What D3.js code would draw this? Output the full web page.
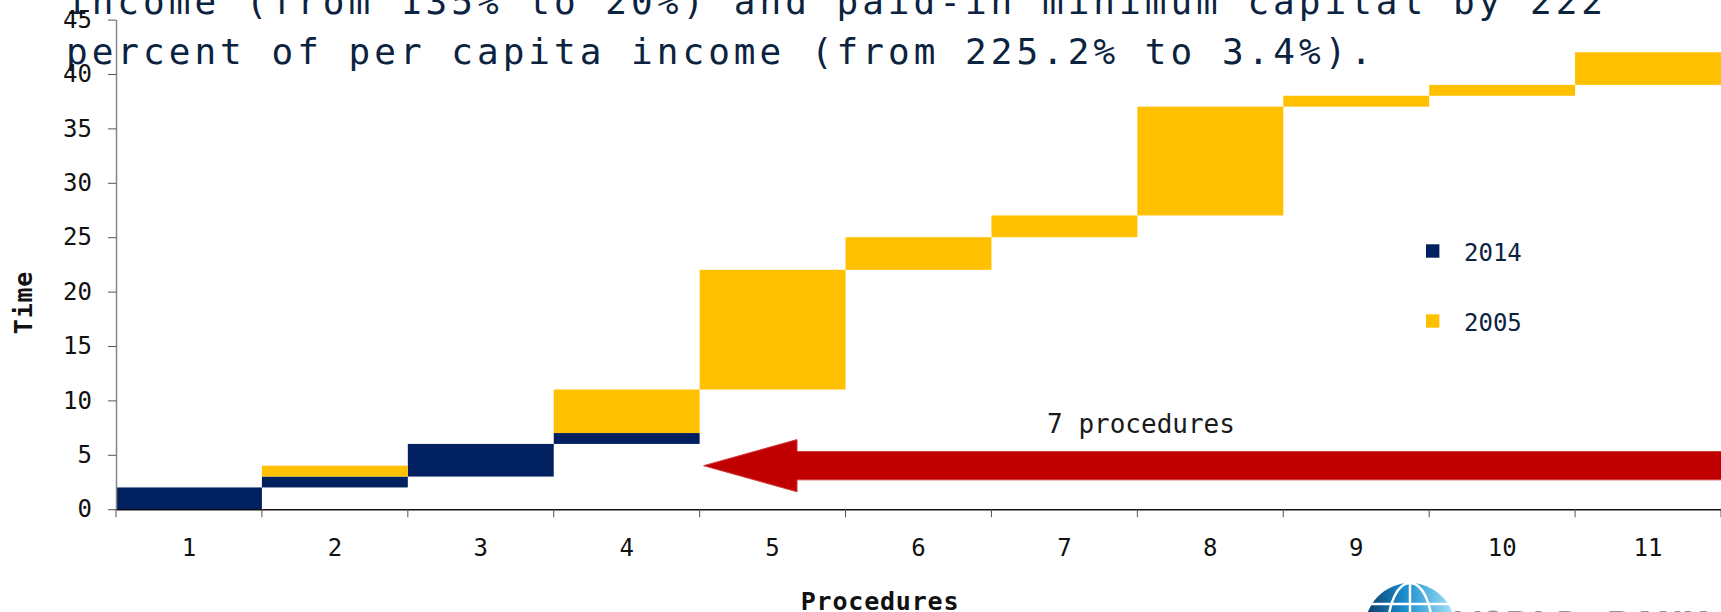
<!DOCTYPE html>
<html>
<head>
<meta charset="utf-8">
<script src="https://cdn.jsdelivr.net/npm/d3@7"></script>
<style>
  html, body { margin: 0; padding: 0; background: #ffffff; overflow: hidden; }
  svg { display: block; }
  text { font-family: "DejaVu Sans Mono", "Liberation Mono", monospace; }
</style>
</head>
<body>
<svg id="chart" width="1721" height="612"></svg>
<script>
// Procedures to start a business: cumulative days, 2014 vs 2005
const procedures = ["1", "2", "3", "4", "5", "6", "7", "8", "9", "10", "11"];
// day on which each procedure starts
const startDay  = [0, 2, 3, 6, 11, 22, 25, 27, 37, 38, 39];
// days taken by each procedure in 2014
const days2014  = [2, 1, 3, 1, 0, 0, 0, 0, 0, 0, 0];
// extra days the same procedure took in 2005
const days2005  = [0, 1, 0, 4, 11, 3, 2, 10, 1, 1, 3];
const yTicks    = [0, 5, 10, 15, 20, 25, 30, 35, 40, 45];
const seriesNames = ["2014", "2005"];
const titleLines = [
  "income (from 135% to 20%) and paid-in minimum capital by 222",
  "percent of per capita income (from 225.2% to 3.4%)."
];
const arrowLabel = "7 procedures";
// the arrow spans the procedures dropped since 2005 (5 through 11), drawn at day 4
const arrowFromProc = 4, arrowDay = 4;

const NAVY = "#002060", GOLD = "#FFC000", RED = "#C00000";
const svg = d3.select("#chart");

const x = d3.scaleBand().domain(procedures).range([116, 1721]).padding(0);
const y = d3.scaleLinear().domain([0, 45]).range([509.2, 19.6]);
const bw = x.bandwidth();

// title (cut off at the top of the frame)
svg.append("g").selectAll("text").data(titleLines).join("text")
  .attr("x", 66)
  .attr("y", (d, i) => 13.5 + i * 50)
  .attr("textLength", (d, i) => i === 0 ? 1537 : 1306)
  .attr("lengthAdjust", "spacing")
  .attr("font-size", 36)
  .attr("fill", "#0c2340")
  .text(d => d);

// waterfall steps
const rows = procedures.map((p, i) => ({ p, s: startDay[i], a: days2014[i], b: days2005[i] }));
const bars = svg.append("g");
bars.selectAll("rect.y2014").data(rows.filter(r => r.a > 0)).join("rect")
  .attr("class", "y2014")
  .attr("x", d => x(d.p)).attr("width", bw)
  .attr("y", d => y(d.s + d.a)).attr("height", d => y(d.s) - y(d.s + d.a))
  .attr("fill", NAVY);
bars.selectAll("rect.y2005").data(rows.filter(r => r.b > 0)).join("rect")
  .attr("class", "y2005")
  .attr("x", d => x(d.p)).attr("width", bw)
  .attr("y", d => y(d.s + d.a + d.b)).attr("height", d => y(d.s + d.a) - y(d.s + d.a + d.b))
  .attr("fill", GOLD);

// y axis
const yAxis = svg.append("g")
  .attr("transform", `translate(${x.range()[0]},0)`)
  .call(d3.axisLeft(y).tickValues(yTicks).tickSize(8).tickSizeOuter(0).tickPadding(16));
yAxis.select(".domain").attr("stroke", "#868686").attr("stroke-width", 1.5);
yAxis.selectAll(".tick line").attr("stroke", "#555");
yAxis.selectAll(".tick text")
  .attr("font-family", "DejaVu Sans Mono").attr("font-size", 24).attr("fill", "#111");

// x axis: labels centred in each band, ticks on band boundaries
const xAxis = svg.append("g")
  .attr("transform", `translate(0,${y(0)})`)
  .call(d3.axisBottom(x).tickSize(0).tickPadding(30));
xAxis.select(".domain").attr("stroke", "#111").attr("stroke-width", 1.5);
xAxis.selectAll(".tick text")
  .attr("font-family", "DejaVu Sans Mono").attr("font-size", 24).attr("fill", "#111");
const bounds = d3.range(procedures.length + 1).map(i => x.range()[0] + i * bw);
xAxis.selectAll("line.bound").data(bounds).join("line")
  .attr("class", "bound")
  .attr("x1", d => d).attr("x2", d => d)
  .attr("y1", 0).attr("y2", 8)
  .attr("stroke", "#555").attr("stroke-width", 1);

// axis titles
svg.append("text")
  .attr("x", 880).attr("y", 610)
  .attr("text-anchor", "middle")
  .attr("font-size", 25).attr("font-weight", "bold").attr("letter-spacing", 0.8)
  .attr("fill", "#111")
  .text("Procedures");
svg.append("text")
  .attr("transform", "rotate(-90)")
  .attr("x", -302.5).attr("y", 31.5)
  .attr("text-anchor", "middle")
  .attr("font-size", 25).attr("font-weight", "bold").attr("letter-spacing", 0.8)
  .attr("fill", "#111")
  .text("Time");

// legend
const legend = svg.append("g");
const legendColors = [NAVY, GOLD];
seriesNames.forEach((name, i) => {
  const cy = 251 + i * 70;
  legend.append("rect")
    .attr("x", 1426).attr("y", cy - 6.7).attr("width", 13.4).attr("height", 13.4)
    .attr("fill", legendColors[i]);
  legend.append("text")
    .attr("x", 1464).attr("y", cy + 9.5)
    .attr("font-size", 24).attr("fill", "#0c2340")
    .text(name);
});

// arrow pointing back from procedure 11 to procedure 5
const tipX = x.range()[0] + arrowFromProc * bw + 4;
const headX = tipX + 0.64 * bw;
const endX = x.range()[1] + 10;
const yc = y(arrowDay);
const shaftHalf = y(0) - y(1.3), headHalf = y(0) - y(2.4);
const arrowPts = [
  [tipX, yc], [headX, yc - headHalf], [headX, yc - shaftHalf], [endX, yc - shaftHalf],
  [endX, yc + shaftHalf], [headX, yc + shaftHalf], [headX, yc + headHalf]
];
svg.append("path")
  .attr("d", d3.line()(arrowPts) + "Z")
  .attr("fill", RED).attr("stroke", "#d23a3a").attr("stroke-width", 1);
svg.append("text")
  .attr("x", 1141).attr("y", 432.7)
  .attr("text-anchor", "middle")
  .attr("font-size", 26).attr("fill", "#1a1a1a")
  .text(arrowLabel);

// logo in the lower-right corner
const defs = svg.append("defs");
const grad = defs.append("linearGradient").attr("id", "globeGrad")
  .attr("x1", "0%").attr("x2", "100%").attr("y1", "0%").attr("y2", "0%");
grad.append("stop").attr("offset", "0%").attr("stop-color", "#0b3a66");
grad.append("stop").attr("offset", "45%").attr("stop-color", "#1c8fd0");
grad.append("stop").attr("offset", "100%").attr("stop-color", "#a8e6f8");
const logo = svg.append("g");
logo.append("circle").attr("cx", 1410).attr("cy", 628).attr("r", 45).attr("fill", "url(#globeGrad)");
logo.append("ellipse").attr("cx", 1410).attr("cy", 628).attr("rx", 22).attr("ry", 45)
  .attr("fill", "none").attr("stroke", "#fff").attr("stroke-width", 2.5);
logo.append("line").attr("x1", 1410).attr("x2", 1410).attr("y1", 583).attr("y2", 612)
  .attr("stroke", "#fff").attr("stroke-width", 2.5);
logo.append("line").attr("x1", 1370).attr("x2", 1450).attr("y1", 604).attr("y2", 604)
  .attr("stroke", "#fff").attr("stroke-width", 2.5);
logo.append("text")
  .attr("x", 1455).attr("y", 642)
  .attr("font-family", "Liberation Sans").attr("font-weight", "bold")
  .attr("font-size", 42).attr("fill", "#8a929c")
  .text("WORLD BANK");
</script>
</body>
</html>
